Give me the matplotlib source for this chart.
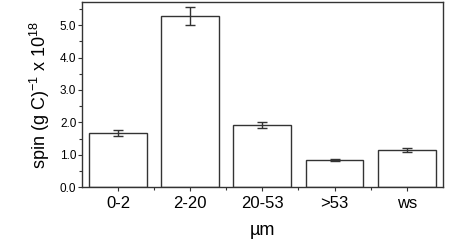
import matplotlib
matplotlib.use("Agg")
import matplotlib.pyplot as plt
from matplotlib.ticker import MultipleLocator, FixedLocator

categories = ["0-2", "2-20", "20-53", ">53", "ws"]
spin_values = [1.68, 5.29, 1.91, 0.83, 1.16]
spin_errors = [0.09, 0.27, 0.09, 0.03, 0.06]

plt.rcParams['font.family'] = ['Liberation Sans', 'DejaVu Sans']
plt.rcParams['mathtext.fontset'] = 'custom'
plt.rcParams['mathtext.rm'] = 'Liberation Sans'
plt.rcParams['mathtext.default'] = 'regular'

fig = plt.figure(figsize=(4.5, 2.48), dpi=100)
ax = fig.add_axes([0.182, 0.245, 0.802, 0.745])

x = range(len(categories))
ax.bar(x, spin_values, width=0.8, color="white", edgecolor="#333333", linewidth=1.0,
       yerr=spin_errors, capsize=3.5,
       error_kw=dict(ecolor="#333333", elinewidth=1.0, capthick=1.0))

ax.set_xlim(-0.5, 4.5)
ax.set_ylim(0, 5.7)
ax.set_xticks(list(x))
ax.set_xticklabels(categories, fontsize=12)
ax.xaxis.set_minor_locator(FixedLocator([0.5, 1.5, 2.5, 3.5]))
ax.yaxis.set_major_locator(MultipleLocator(1.0))
ax.yaxis.set_minor_locator(MultipleLocator(0.5))
ax.set_yticklabels(["%.1f" % v for v in ax.get_yticks()], fontsize=8.5)

ax.tick_params(axis="both", which="major", direction="out", length=3, width=0.8, color="#333333")
ax.tick_params(axis="both", which="minor", direction="out", length=2, width=0.8, color="#333333")
ax.tick_params(axis="x", pad=3)
ax.tick_params(axis="y", pad=1)
for s in ax.spines.values():
    s.set_color("#333333")
    s.set_linewidth(1.0)

ax.set_xlabel("\u00b5m", fontsize=13, labelpad=8)
ax.set_ylabel("spin (g C)$^{-1}$ x 10$^{18}$", fontsize=13, labelpad=6)

fig.savefig("out.png", dpi=100)
plt.close()
